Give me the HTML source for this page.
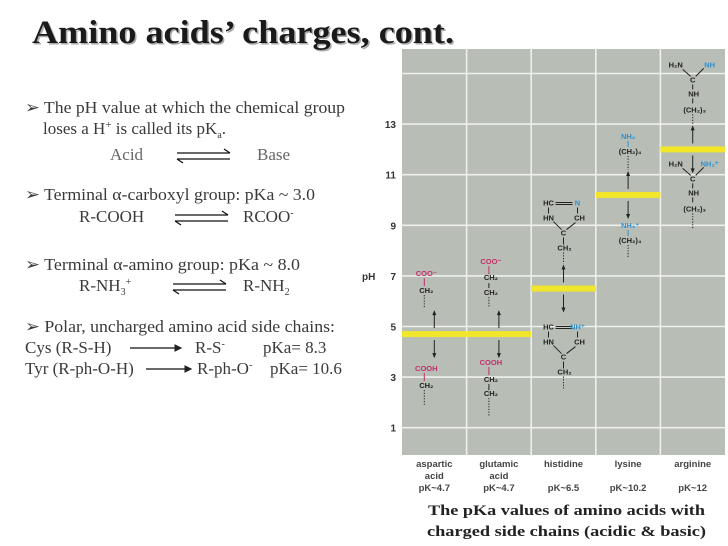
<!DOCTYPE html>
<html><head><meta charset="utf-8">
<style>
html,body{margin:0;padding:0;background:#fff;}
svg{display:block;}
.s{font-family:"Liberation Serif",serif;font-size:17px;fill:#3a3a3a;}
.g{fill:#666;}
.c{font-family:"Liberation Sans",sans-serif;font-size:7.5px;font-weight:bold;fill:#222;}
.m{fill:#c2306c;}
.b{fill:#2e90d0;}
.ax{font-family:"Liberation Sans",sans-serif;font-size:10px;font-weight:bold;fill:#333;}
.lab{font-family:"Liberation Sans",sans-serif;font-size:9.5px;font-weight:bold;fill:#444;text-anchor:middle;}
</style></head>
<body>
<svg id="root" width="728" height="546" viewBox="0 0 728 546" xmlns="http://www.w3.org/2000/svg">
<defs>
<marker id="ah" markerWidth="6" markerHeight="6" refX="5" refY="3" orient="auto"><path d="M0,0 L6,3 L0,6 z" fill="#222"/></marker>
</defs>
<g>
<text x="33.5" y="44.5" font-family="Liberation Serif,serif" font-weight="bold" font-size="33" fill="#aaa" textLength="422" lengthAdjust="spacingAndGlyphs">Amino acids’ charges, cont.</text>
<text x="32" y="43" font-family="Liberation Serif,serif" font-weight="bold" font-size="33" fill="#1a1a1a" textLength="422" lengthAdjust="spacingAndGlyphs">Amino acids’ charges, cont.</text>
</g>
<g>
<text class="s" x="25" y="113" textLength="320" lengthAdjust="spacingAndGlyphs">➢ The pH value at which the chemical  group</text>
<text class="s" x="43" y="134">loses a H<tspan dy="-6" font-size="11">+</tspan><tspan dy="6"> is called its pK</tspan><tspan dy="4" font-size="10">a</tspan><tspan dy="-4">.</tspan></text>
<text class="s g" x="110" y="160">Acid</text>
<text class="s g" x="257" y="160">Base</text>
<text class="s" x="25" y="200" textLength="290" lengthAdjust="spacingAndGlyphs">➢ Terminal α-carboxyl group: pKa ~ 3.0</text>
<text class="s" x="79" y="222">R-COOH</text>
<text class="s" x="243" y="222">RCOO<tspan dy="-6" font-size="10">-</tspan></text>
<text class="s" x="25" y="270" textLength="275" lengthAdjust="spacingAndGlyphs">➢ Terminal α-amino group: pKa ~ 8.0</text>
<text class="s" x="79" y="291">R-NH<tspan dy="4" font-size="10">3</tspan><tspan dy="-10" font-size="10">+</tspan></text>
<text class="s" x="243" y="291">R-NH<tspan dy="4" font-size="10">2</tspan></text>
<text class="s" x="25" y="332" textLength="310" lengthAdjust="spacingAndGlyphs">➢ Polar, uncharged amino acid side   chains:</text>
<text class="s" x="25" y="353">Cys (R-S-H)</text>
<text class="s" x="195" y="353">R-S<tspan dy="-6" font-size="10">-</tspan></text>
<text class="s" x="263" y="353">pKa= 8.3</text>
<text class="s" x="25" y="374">Tyr  (R-ph-O-H)</text>
<text class="s" x="197" y="374">R-ph-O<tspan dy="-6" font-size="10">-</tspan></text>
<text class="s" x="270" y="374">pKa= 10.6</text>
<g stroke="#111" stroke-width="1.3" fill="none">
<path d="M177,153 H230 M224,149 L230,153"/><path d="M177,159 H230 M177,159 L183,163"/>
<path d="M175,215 H228 M222,211 L228,215"/><path d="M175,221 H228 M175,221 L181,225"/>
<path d="M173,284 H226 M220,280 L226,284"/><path d="M173,290 H226 M173,290 L179,294"/>
<path d="M130,348 H181" marker-end="url(#ah)"/>
<path d="M146,369 H191" marker-end="url(#ah)"/>
</g>
</g>
<g id="chart"></g>
<g>
<text x="428" y="515" font-family="Liberation Serif,serif" font-weight="bold" font-size="15" fill="#222" textLength="277" lengthAdjust="spacingAndGlyphs">The pKa values of amino acids with</text>
<text x="427" y="536" font-family="Liberation Serif,serif" font-weight="bold" font-size="15" fill="#222" textLength="279" lengthAdjust="spacingAndGlyphs">charged side chains (acidic &amp; basic)</text>
</g>
</svg>
<script>
const categories=["aspartic acid","glutamic acid","histidine","lysine","arginine"];
const pkValues=[4.7,4.7,6.5,10.2,12];
const pkLabels=["pK~4.7","pK~4.7","pK~6.5","pK~10.2","pK~12"];
const yTicks=[1,3,5,7,9,11,13];

const NS="http://www.w3.org/2000/svg";
const chart=document.getElementById('chart');
const X0=402,X1=725,Y0=49,Y1=455;
const colW=(X1-X0)/categories.length;
const yS=v=>453-v*25.3;
const xC=i=>X0+colW*(i+0.5);
function el(tag,attrs,parent,txt){const e=document.createElementNS(NS,tag);for(const k in attrs)e.setAttribute(k,attrs[k]);if(txt!=null)e.textContent=txt;(parent||chart).appendChild(e);return e;}

const bg=el('rect',{x:X0,y:Y0,width:X1-X0,height:Y1-Y0,fill:'#b8bdb6'});


[1,3,5,7,9,11,13,15].forEach(v=>{el('line',{x1:X0,x2:X1,y1:yS(v),y2:yS(v),stroke:'#eef0ec','stroke-width':1.6});});
for(let i=1;i<categories.length;i++){el('line',{x1:X0+colW*i,x2:X0+colW*i,y1:Y0,y2:Y1,stroke:'#eef0ec','stroke-width':1.6});}
yTicks.forEach(v=>{const t=el('text',{x:396,y:yS(v)+4,class:'ax','text-anchor':'end'},chart,String(v));

});
const yt=el('text',{x:362,y:yS(7)+4,class:'ax'},chart,'pH');



function T(x,y,s,cls){return el('text',{x:x,y:y,class:'c '+(cls||''),'text-anchor':'middle'},chart,s);}
function L(x1,y1,x2,y2,col,dash){el('line',{x1,y1,x2,y2,stroke:col||'#222','stroke-width':1,'stroke-dasharray':dash||''});}
function dots(x,y1,y2){L(x,y1,x,y2,'#222','1.2 1.5');}

categories.forEach((c,i)=>{
  const cx=xC(i), yb=yS(pkValues[i]);
  const bar=el('rect',{x:X0+colW*i,y:yb-3,width:colW,height:6,fill:'#f2e62a'});
  
  
  L(cx,yb-6,cx,yb-22);el('path',{d:`M${cx-2},${yb-19} L${cx},${yb-24} L${cx+2},${yb-19}z`,fill:'#222'});
  L(cx,yb+6,cx,yb+22);el('path',{d:`M${cx-2},${yb+19} L${cx},${yb+24} L${cx+2},${yb+19}z`,fill:'#222'});
  const words=c.split(' ');
  words.forEach((w,k)=>{const t=el('text',{x:cx,y:467+k*12,class:'lab'},chart,w);
    
    });
  const p=el('text',{x:cx,y:491,class:'lab'},chart,pkLabels[i]);
  
  
});
(function(){
 let cx=xC(0)-8,yb=yS(pkValues[0]);
 T(cx,yb-58,'COO⁻','m');L(cx-2,yb-56,cx-2,yb-48,'#c2306c');T(cx,yb-41,'CH₂');dots(cx-2,yb-39,yb-27);
 T(cx,yb+37,'COOH','m');L(cx-2,yb+39,cx-2,yb+47,'#c2306c');T(cx,yb+54,'CH₂');dots(cx-2,yb+56,yb+71);
 cx=xC(1)-8;yb=yS(pkValues[1]);
 T(cx,yb-70,'COO⁻','m');L(cx-2,yb-68,cx-2,yb-60,'#c2306c');T(cx,yb-54,'CH₂');L(cx-2,yb-51,cx-2,yb-46);T(cx,yb-39,'CH₂');dots(cx-2,yb-37,yb-27);
 T(cx,yb+31,'COOH','m');L(cx-2,yb+33,cx-2,yb+41,'#c2306c');T(cx,yb+48,'CH₂');L(cx-2,yb+50,cx-2,yb+56);T(cx,yb+62,'CH₂');dots(cx-2,yb+64,yb+82);
 function ring(cx,y,top){T(cx-15,y,'HC');L(cx-8,y-3,cx+9,y-3);L(cx-8,y-1,cx+9,y-1);T(cx+14,y,top,'b');L(cx-15,y+2,cx-15,y+8);L(cx+14,y+2,cx+14,y+8);
  T(cx-15,y+15,'HN');T(cx+16,y+15,'CH');L(cx-10,y+16,cx-2,y+24);L(cx+12,y+17,cx+3,y+24);T(cx,y+30,'C');L(cx,y+32,cx,y+39);T(cx+1,y+45,'CH₂');}
 cx=xC(2);yb=yS(pkValues[2]);
 ring(cx,yb-83,'N');dots(cx,yb-36,yb-25);
 ring(cx,yb+41,'NH⁺');dots(cx,yb+88,yb+101);
 cx=xC(3);yb=yS(pkValues[3]);
 T(cx,yb-56,'NH₂','b');L(cx,yb-54,cx,yb-48,'#2e90d0');T(cx+2,yb-41,'(CH₂)₄');dots(cx,yb-39,yb-25);
 T(cx+2,yb+33,'NH₃⁺','b');L(cx,yb+35,cx,yb+41,'#2e90d0');T(cx+2,yb+48,'(CH₂)₄');dots(cx,yb+50,yb+63);
 cx=xC(4);yb=yS(pkValues[4]);
 function arg(y,right){T(cx-17,y,'H₂N');T(cx+17,y,right,'b');L(cx-10,y+2,cx-2,y+9);L(cx+11,y+1,cx+3,y+9);T(cx,y+15,'C');L(cx,y+17,cx,y+22);T(cx+1,y+29,'NH');L(cx,y+31,cx,y+36);T(cx+2,y+45,'(CH₂)₃');}
 arg(yb-82,'NH');dots(cx,yb-35,yb-25);
 arg(yb+17,'NH₂⁺');dots(cx,yb+64,yb+80);
})();
</script>
</body></html>
